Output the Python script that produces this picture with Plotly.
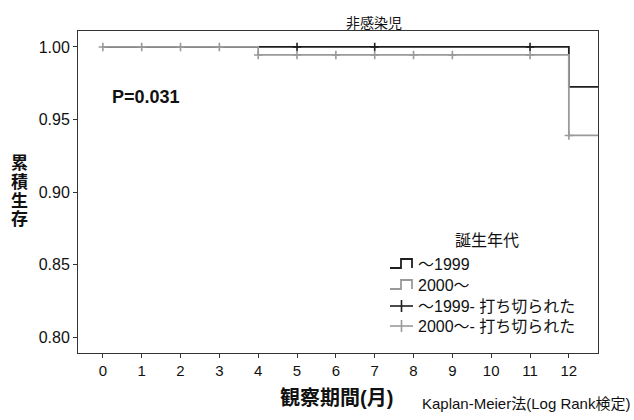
import plotly.graph_objects as go

# Kaplan-Meier step curves (time in months, cumulative survival)
t_1999 = [0, 4, 12, 12.75]
s_1999 = [1.0, 1.0, 0.9725, 0.9725]
t_2000 = [0, 4, 12, 12.75]
s_2000 = [1.0, 0.9945, 0.939, 0.939]

# censored observations
cens_t_1999 = [5, 7, 11]
cens_s_1999 = [1.0, 1.0, 1.0]
cens_t_2000 = [0, 1, 2, 3, 4, 5, 6, 7, 8, 9, 11, 12]
cens_s_2000 = [1.0, 1.0, 1.0, 1.0, 0.9945, 0.9945, 0.9945, 0.9945, 0.9945, 0.9945, 0.9945, 0.939]

x_ticks = list(range(0, 13))
y_ticks = [0.80, 0.85, 0.90, 0.95, 1.00]
y_tick_labels = ["0.80", "0.85", "0.90", "0.95", "1.00"]
y_title_chars = ["累", "積", "生", "存"]

legend_title = "誕生年代"
legend_labels = ["～1999", "2000～", "～1999- 打ち切られた", "2000～- 打ち切られた"]

FONT = "Liberation Sans, Arial, Noto Sans CJK JP"
BLACK = "#1e1e1e"
GRAY = "#9a9a9a"
legend_colors = [BLACK, GRAY, BLACK, GRAY]
legend_kinds = ["step", "step", "cross", "cross"]

W, H = 634, 420
ML, MR, MT, MB = 78, 36, 31, 67
PW, PH = W - ML - MR, H - MT - MB


def px(x):
    return (x - ML) / PW


def py(y):
    return (H - MB - y) / PH


fig = go.Figure()
fig.add_trace(go.Scatter(x=t_1999, y=s_1999, mode="lines", line=dict(shape="hv", color=BLACK, width=1.8),
                         name=legend_labels[0]))
fig.add_trace(go.Scatter(x=t_2000, y=s_2000, mode="lines", line=dict(shape="hv", color=GRAY, width=1.8),
                         name=legend_labels[1]))
fig.add_trace(go.Scatter(x=cens_t_1999, y=cens_s_1999, mode="markers",
                         marker=dict(symbol="cross-thin", size=6, line=dict(color=BLACK, width=1.6)),
                         name=legend_labels[2]))
fig.add_trace(go.Scatter(x=cens_t_2000, y=cens_s_2000, mode="markers",
                         marker=dict(symbol="cross-thin", size=6, line=dict(color=GRAY, width=1.6)),
                         name=legend_labels[3]))

fig.update_layout(
    width=W, height=H,
    margin=dict(l=ML, r=MR, t=MT, b=MB),
    paper_bgcolor="white", plot_bgcolor="white",
    font=dict(family=FONT, size=14, color="#111"),
    showlegend=False,
    xaxis=dict(range=[-0.64, 12.75], tickmode="array", tickvals=x_ticks,
               ticktext=[str(v) for v in x_ticks],
               showline=True, linecolor="#333", linewidth=1, mirror=True,
               ticks="outside", ticklen=4, tickcolor="#333", showgrid=False, zeroline=False,
               tickfont=dict(size=15)),
    yaxis=dict(range=[0.789, 1.011], tickmode="array", tickvals=y_ticks, ticktext=y_tick_labels,
               showline=True, linecolor="#333", linewidth=1, mirror=True,
               ticks="outside", ticklen=4, tickcolor="#333", showgrid=False, zeroline=False,
               tickfont=dict(size=16)),
)

# custom legend (SPSS style)
fig.add_annotation(text=legend_title, xref="paper", yref="paper", x=px(487), y=py(240),
                   showarrow=False, font=dict(size=16, family=FONT), xanchor="center", yanchor="middle")
row_y = [264, 285, 306, 326]
for lab, col, kind, ry in zip(legend_labels, legend_colors, legend_kinds, row_y):
    fig.add_annotation(text=lab, xref="paper", yref="paper", x=px(416), y=py(ry),
                       showarrow=False, font=dict(size=16, family=FONT), xanchor="left", yanchor="middle")
    if kind == "step":
        path = "M {} {} L {} {} L {} {} L {} {} L {} {}".format(
            px(390), py(ry + 4), px(401), py(ry + 4), px(401), py(ry - 5),
            px(412), py(ry - 5), px(412), py(ry + 4))
        fig.add_shape(type="path", path=path, xref="paper", yref="paper",
                      line=dict(color=col, width=1.8))
    else:
        fig.add_shape(type="line", xref="paper", yref="paper", x0=px(390), x1=px(413),
                      y0=py(ry), y1=py(ry), line=dict(color=col, width=1.6))
        fig.add_shape(type="line", xref="paper", yref="paper", x0=px(401.5), x1=px(401.5),
                      y0=py(ry - 6), y1=py(ry + 6), line=dict(color=col, width=1.6))

fig.add_annotation(text="非感染児", xref="paper", yref="paper", x=px(374), y=py(23),
                   showarrow=False, font=dict(size=14, family=FONT), xanchor="center", yanchor="middle")
fig.add_annotation(text="<b>P=0.031</b>", xref="x", yref="y", x=0.18, y=0.9657,
                   showarrow=False, font=dict(size=18, family=FONT), xanchor="left", yanchor="middle")
for ch, cy in zip(y_title_chars, [164, 182, 201, 219]):
    fig.add_annotation(text="<b>" + ch + "</b>", xref="paper", yref="paper", x=px(19), y=py(cy),
                       showarrow=False, font=dict(size=17, family=FONT), xanchor="center", yanchor="middle")
fig.add_annotation(text="<b>観察期間(月)</b>", xref="paper", yref="paper", x=px(336), y=py(398),
                   showarrow=False, font=dict(size=20, family=FONT), xanchor="center", yanchor="middle")
fig.add_annotation(text="Kaplan-Meier法(Log Rank検定)", xref="paper", yref="paper", x=px(632), y=py(404),
                   showarrow=False, font=dict(size=15, family=FONT), xanchor="right", yanchor="middle")

fig.write_html("out.html", config={"displayModeBar": False},
               post_script="document.body.style.margin='0';")
